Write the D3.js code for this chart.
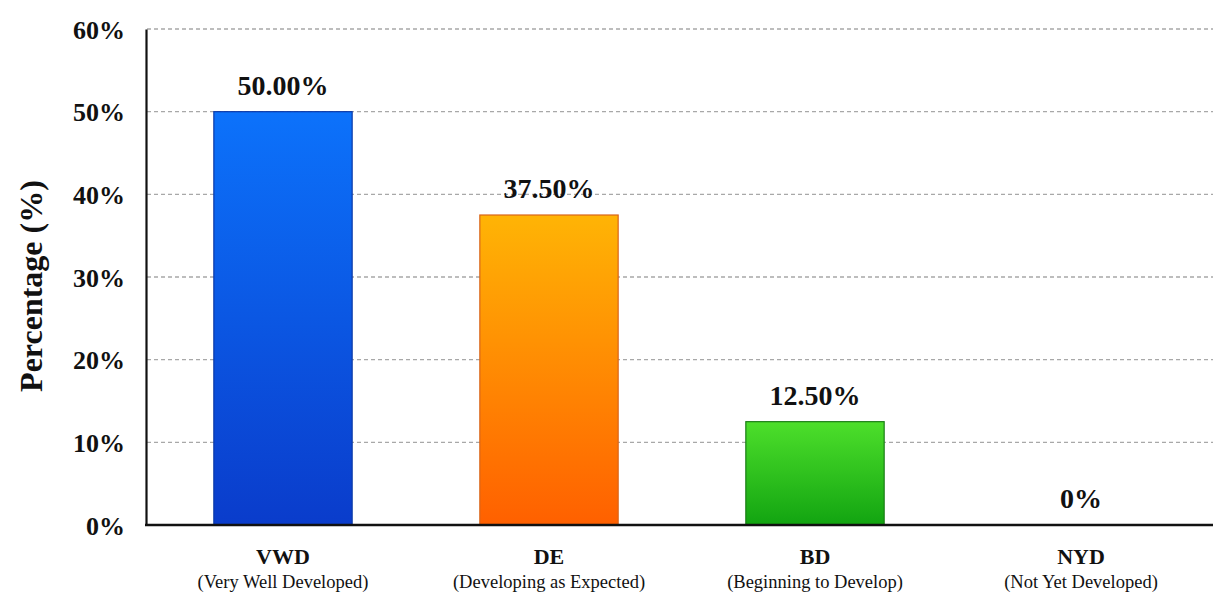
<!DOCTYPE html>
<html>
<head>
<meta charset="utf-8">
<script src="https://cdn.jsdelivr.net/npm/d3@7"></script>
<style>
  body { margin: 0; background: #fff; }
  text { font-family: "Liberation Serif", "Times New Roman", serif; fill: #111; }
</style>
</head>
<body>
<svg width="1213" height="593"></svg>
<script>
'use strict';

const codes = ["VWD", "DE", "BD", "NYD"];
const names = ["(Very Well Developed)", "(Developing as Expected)", "(Beginning to Develop)", "(Not Yet Developed)"];
const values = [50.0, 37.5, 12.5, 0];
const valueLabels = ["50.00%", "37.50%", "12.50%", "0%"];
const yTicks = [0, 10, 20, 30, 40, 50, 60];
const topColors = ["#0c72fb", "#ffb405", "#4ddf2b", "#999"];
const bottomColors = ["#0a3ccb", "#ff6000", "#12a411", "#999"];
const strokeColors = ["#0b3aa8", "#d9651a", "#1a7d16", "#999"];

const width = 1213, height = 593;
const svg = d3.select("svg");

const x = d3.scaleBand().domain(codes).range([150, 1214]).paddingInner(0.48).paddingOuter(0.24);
const y = d3.scaleLinear().domain([0, 60]).range([525, 29]);

// gradients
const defs = svg.append("defs");
codes.forEach((c, i) => {
  const grad = defs.append("linearGradient")
    .attr("id", "g" + i)
    .attr("x1", 0).attr("y1", 0).attr("x2", 0).attr("y2", 1);
  grad.append("stop").attr("offset", "0%").attr("stop-color", topColors[i]);
  grad.append("stop").attr("offset", "100%").attr("stop-color", bottomColors[i]);
});

// grid lines
svg.append("g")
  .selectAll("line")
  .data(yTicks.filter(t => t > 0))
  .enter()
  .append("line")
  .attr("x1", 147).attr("x2", width)
  .attr("y1", d => y(d)).attr("y2", d => y(d))
  .attr("stroke", "#a8a8a8")
  .attr("stroke-width", 1.3)
  .attr("stroke-dasharray", "4,3");

// bars
svg.append("g")
  .selectAll("rect")
  .data(values)
  .enter()
  .append("rect")
  .attr("x", (d, i) => x(codes[i]))
  .attr("width", x.bandwidth())
  .attr("y", d => y(d))
  .attr("height", d => y(0) - y(d))
  .attr("fill", (d, i) => `url(#g${i})`)
  .attr("stroke", (d, i) => strokeColors[i])
  .attr("stroke-width", d => d > 0 ? 1.2 : 0);

// value labels
svg.append("g")
  .selectAll("text")
  .data(values)
  .enter()
  .append("text")
  .attr("x", (d, i) => x(codes[i]) + x.bandwidth() / 2)
  .attr("y", d => y(d) - 17)
  .attr("text-anchor", "middle")
  .style("font-size", "28px")
  .style("font-weight", "bold")
  .text((d, i) => valueLabels[i]);

// y axis
const yAxis = svg.append("g")
  .attr("transform", "translate(146,0)")
  .call(d3.axisLeft(y).tickValues(yTicks).tickSize(0).tickPadding(21).tickFormat(d => d + "%"));
yAxis.select(".domain").attr("stroke", "#111").attr("stroke-width", 2.2);
yAxis.selectAll("text")
  .style("font-size", "26px")
  .style("font-weight", "bold")
  .style("font-family", "Liberation Serif, serif")
  .attr("dy", "0.35em");

// x axis line
svg.append("line")
  .attr("x1", 145).attr("x2", width)
  .attr("y1", y(0)).attr("y2", y(0))
  .attr("stroke", "#111").attr("stroke-width", 2.4);

// category labels
const cats = svg.append("g")
  .selectAll("g")
  .data(codes)
  .enter()
  .append("g")
  .attr("transform", d => `translate(${x(d) + x.bandwidth() / 2},0)`);
cats.append("text")
  .attr("y", 564)
  .attr("text-anchor", "middle")
  .style("font-size", "22px")
  .style("font-weight", "bold")
  .text(d => d);
cats.append("text")
  .attr("y", 588)
  .attr("text-anchor", "middle")
  .style("font-size", "18.5px")
  .text((d, i) => names[i]);

// y axis title
svg.append("text")
  .attr("transform", "translate(42,286) rotate(-90)")
  .attr("text-anchor", "middle")
  .style("font-size", "32px")
  .style("font-weight", "bold")
  .text("Percentage (%)");
</script>
</body>
</html>
